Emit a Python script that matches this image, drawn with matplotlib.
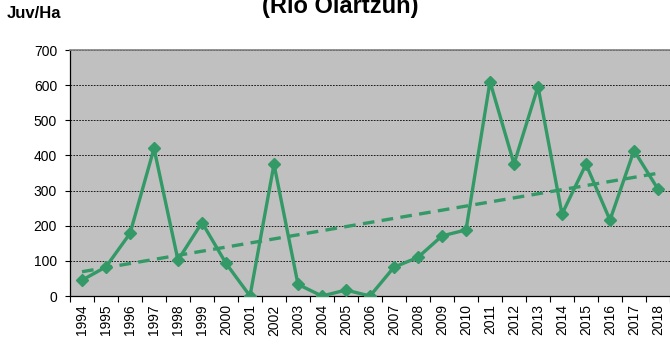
import numpy as np
import matplotlib
matplotlib.use('Agg')
import matplotlib.pyplot as plt
from matplotlib.ticker import FixedLocator, NullFormatter

plt.rcParams['font.family'] = ['Liberation Sans', 'DejaVu Sans']

# --- DATA ---
years = [str(y) for y in range(1994, 2019)]
juv_ha = [45, 83, 178, 420, 102, 209, 93, 0, 375, 33, 0, 17, 0,
          82, 110, 171, 188, 610, 376, 596, 233, 375, 216, 414, 304]
y_ticks = [0, 100, 200, 300, 400, 500, 600, 700]

GREEN = '#339966'
PLOT_BG = '#C0C0C0'

fig = plt.figure(figsize=(6.7, 3.45), dpi=100)
ax = fig.add_axes([70 / 670, 49 / 345, 600 / 670, 246 / 345])
ax.set_facecolor(PLOT_BG)

x = np.arange(len(years))
ax.plot(x, juv_ha, color=GREEN, lw=2.4, marker='D', ms=6.5, zorder=4)

# linear trend
coef = np.polyfit(x, juv_ha, 1)
ax.plot(x, np.polyval(coef, x), color=GREEN, lw=2.4, ls=(0, (3.5, 2.2)), zorder=3)

ax.set_xlim(-0.5, len(years) - 0.5)
ax.set_ylim(0, 700)
ax.set_yticks(y_ticks)
ax.set_yticklabels([str(v) for v in y_ticks], fontsize=10)
ax.yaxis.grid(True, color='black', ls=(0, (2, 1.5)), lw=0.6)
ax.set_axisbelow(True)

# category ticks sit between the years, labels at the centers
ax.xaxis.set_major_locator(FixedLocator(np.arange(-0.5, len(years), 1.0)))
ax.xaxis.set_major_formatter(NullFormatter())
ax.xaxis.set_minor_locator(FixedLocator(x))
ax.set_xticklabels(years, minor=True, rotation=90, fontsize=10)
ax.tick_params(axis='x', which='minor', length=0, pad=6)
ax.tick_params(axis='x', which='major', length=4, width=0.8, direction='out')
ax.tick_params(axis='y', length=3.8, width=0.8, direction='out', pad=5.5)

for side in ['left', 'bottom']:
    ax.spines[side].set_color('black')
    ax.spines[side].set_linewidth(0.9)
ax.spines['top'].set_color('#808080')
ax.spines['top'].set_linewidth(1.2)
ax.spines['right'].set_visible(False)

fig.text(7 / 670, 1 - 18 / 345, 'Juv/Ha', fontsize=12, fontweight='bold', ha='left', va='baseline')
fig.text(340 / 670, 1 - 13 / 345, '(Río Olartzun)', fontsize=17, fontweight='bold', ha='center', va='baseline')

fig.savefig('out.png', dpi=100)
